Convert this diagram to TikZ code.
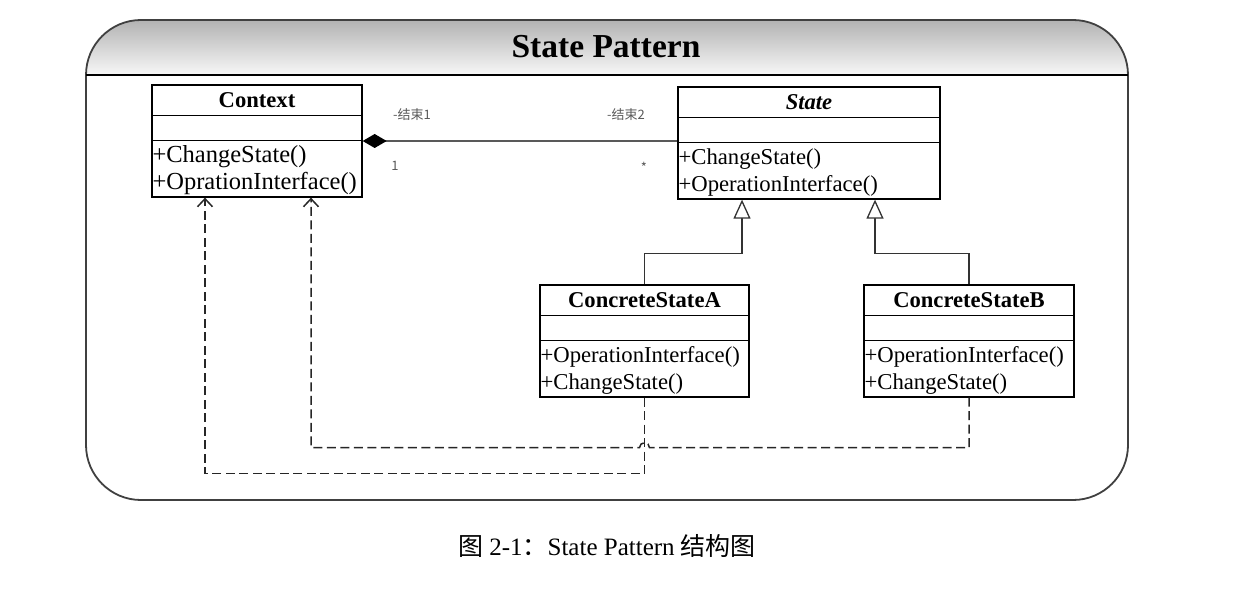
\documentclass[tikz,border=0pt]{standalone}
\usepackage{fontspec}
\setmainfont{Liberation Serif}
\newfontfamily\cjk{Noto Sans CJK SC}
\usetikzlibrary{arrows.meta}

\begin{document}
\begin{tikzpicture}[x = 1pt, y = -1pt,
	classbox/.style={draw, line width=1.3pt, minimum width=#1, minimum height=112pt, inner sep=0pt},
	classname/.style={font=\fontsize{22.6}{26}\selectfont\bfseries, inner sep=0pt},
	member/.style={font=\fontsize{22.7}{26}\selectfont, inner sep=0pt, anchor=base west},
	endlabel/.style={font=\cjk\fontsize{13}{15}\selectfont, text=black!65, inner sep=0pt},
	sepline/.style={line width=1.3pt},
	assoc/.style={line width=1.6pt, black!65},
	inherit/.style={line width=1.3pt, black!80, -{Triangle[length=19pt, width=17pt, fill=white]}},
	depend/.style={line width=1.5pt, black!85, dash pattern=on 9pt off 4.5pt, -{Straight Barb[length=8pt, width=15pt]}}]

\useasboundingbox (0,0) rectangle (1249,596);

% frame
\shade[top color=black!30, bottom color=black!3] (86,75) arc[start angle=180, end angle=90, radius=55pt] -- (1073,20) arc[start angle=90, end angle=0, radius=55pt] -- cycle;
\draw[line width=1.8pt, black!75, rounded corners=55pt] (86,20) rectangle (1128,500);
\draw[sepline] (86,75) -- (1128,75);
\node[font=\fontsize{33.5}{38}\selectfont\bfseries] (title) at (606,47) {State Pattern};

% classes
\node[classbox=210] (context) at (257,141) {};
\draw[sepline] ([yshift=-31pt]context.north west) -- ([yshift=-31pt]context.north east);
\draw[sepline] ([yshift=-56pt]context.north west) -- ([yshift=-56pt]context.north east);
\node[classname] (context-name) at ([yshift=-15.5pt]context.north) {Context};
\node[member, font=\fontsize{24.5}{28}\selectfont] (context-m1) at ([xshift=1pt, yshift=-78pt]context.north west) {+ChangeState()};
\node[member, font=\fontsize{24.5}{28}\selectfont] (context-m2) at ([xshift=1pt, yshift=-105pt]context.north west) {+OprationInterface()};

\node[classbox=262] (state) at (809,143) {};
\draw[sepline] ([yshift=-31pt]state.north west) -- ([yshift=-31pt]state.north east);
\draw[sepline] ([yshift=-56pt]state.north west) -- ([yshift=-56pt]state.north east);
\node[classname] (state-name) at ([yshift=-15.5pt]state.north) {\itshape State};
\node[member] (state-m1) at ([xshift=1pt, yshift=-78pt]state.north west) {+ChangeState()};
\node[member] (state-m2) at ([xshift=1pt, yshift=-105pt]state.north west) {+OperationInterface()};

\node[classbox=209] (conA) at (644.5,341) {};
\draw[sepline] ([yshift=-31pt]conA.north west) -- ([yshift=-31pt]conA.north east);
\draw[sepline] ([yshift=-56pt]conA.north west) -- ([yshift=-56pt]conA.north east);
\node[classname] (conA-name) at ([yshift=-15.5pt]conA.north) {ConcreteStateA};
\node[member] (conA-m1) at ([xshift=1pt, yshift=-78pt]conA.north west) {+OperationInterface()};
\node[member] (conA-m2) at ([xshift=1pt, yshift=-105pt]conA.north west) {+ChangeState()};

\node[classbox=210] (conB) at (969,341) {};
\draw[sepline] ([yshift=-31pt]conB.north west) -- ([yshift=-31pt]conB.north east);
\draw[sepline] ([yshift=-56pt]conB.north west) -- ([yshift=-56pt]conB.north east);
\node[classname] (conB-name) at ([yshift=-15.5pt]conB.north) {ConcreteStateB};
\node[member] (conB-m1) at ([xshift=1pt, yshift=-78pt]conB.north west) {+OperationInterface()};
\node[member] (conB-m2) at ([xshift=1pt, yshift=-105pt]conB.north west) {+ChangeState()};

% association
\draw[assoc, {Diamond[length=24pt, width=14pt, color=black]}-] (context.east) -- (context.east -| state.west);
\node[endlabel] (end1) at (412,115) {-结束1};
\node[endlabel] (mult1) at (395,166) {1};
\node[endlabel] (end2) at (626,115) {-结束2};
\node[endlabel] (mult2) at (644,167) {*};

% inheritance
\draw[inherit] (conA.north) -- ++(0,-31) -| ([xshift=-67pt]state.south);
\draw[inherit] (conB.north) -- ++(0,-31) -| ([xshift=66pt]state.south);

% dependencies
\coordinate (hop) at ([yshift=-50pt]conB.south -| conA.south);
\draw[depend] (conA.south) -- ++(0,76) -| ([xshift=-52pt]context.south);
\draw[depend] (conB.south) |- ([xshift=5pt]hop) arc[start angle=0, end angle=180, radius=5pt] -| ([xshift=54pt]context.south);

% caption
\node[font=\fontsize{25}{30}\selectfont] (caption) at (607,546) {{\cjk 图} 2-1{\cjk ：}State Pattern {\cjk 结构图}};
\end{tikzpicture}
\end{document}
